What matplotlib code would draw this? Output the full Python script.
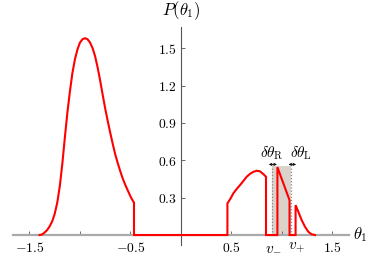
import matplotlib
matplotlib.use("Agg")
import matplotlib.pyplot as plt

plt.rcParams['mathtext.fontset'] = 'cm'
plt.rcParams['font.family'] = ['DejaVu Serif']

# left lobe of P(theta_1)
left_x = [-1.40, -1.375, -1.35, -1.325, -1.30, -1.275, -1.25, -1.225, -1.20, -1.175,
          -1.15, -1.125, -1.10, -1.075, -1.05, -1.025, -1.00, -0.975, -0.95, -0.925,
          -0.90, -0.875, -0.85, -0.825, -0.80, -0.775, -0.75, -0.725, -0.70, -0.675,
          -0.65, -0.625, -0.60, -0.575, -0.55, -0.525, -0.50, -0.48, -0.465, -0.465]
left_y = [0.00, 0.005, 0.02, 0.04, 0.07, 0.11, 0.17, 0.26, 0.39, 0.57,
          0.78, 0.98, 1.15, 1.30, 1.41, 1.49, 1.545, 1.572, 1.58, 1.572,
          1.545, 1.50, 1.435, 1.345, 1.24, 1.125, 1.015, 0.915, 0.82, 0.73,
          0.645, 0.575, 0.51, 0.45, 0.40, 0.355, 0.31, 0.28, 0.26, 0.0]
# middle bump
mid_x = [-0.465, 0.46, 0.46, 0.49, 0.518, 0.55, 0.584, 0.62, 0.65, 0.685, 0.716,
         0.75, 0.78, 0.80, 0.82, 0.842, 0.842]
mid_y = [0.0, 0.0, 0.254, 0.292, 0.334, 0.368, 0.40, 0.436, 0.467, 0.492, 0.507,
         0.516, 0.512, 0.50, 0.486, 0.468, 0.0]
# part inside the window
win_x = [0.842, 0.955, 0.955, 1.075, 1.075]
win_y = [0.0, 0.0, 0.545, 0.28, 0.0]
# right tail
tail_x = [1.075, 1.135, 1.135, 1.162, 1.195, 1.228, 1.26, 1.294, 1.327]
tail_y = [0.0, 0.0, 0.24, 0.187, 0.12, 0.067, 0.027, 0.006, 0.0]

v_minus, v_plus = 0.905, 1.09
shade_top = 0.555

xticks = [-1.5, -1.0, -0.5, 0.5, 1.0, 1.5]
xticklabels = [r'$-1.5$', '', r'$-0.5$', r'$0.5$', '', r'$1.5$']
yticks = [0.3, 0.6, 0.9, 1.2, 1.5]
yticklabels = [r'$0.3$', r'$0.6$', r'$0.9$', r'$1.2$', r'$1.5$']

fig = plt.figure(figsize=(3.74, 2.61), dpi=100)
ax = fig.add_axes([0.0356, 0.0613, 0.8965, 0.8352])
ax.set_xlim(-1.66, 1.66)
ax.set_ylim(-0.08, 1.67)

for s in ['top', 'right']:
    ax.spines[s].set_visible(False)
ax.spines['bottom'].set_position(('data', 0))
ax.spines['left'].set_position(('data', 0))
ax.spines['bottom'].set_color('#aaaaaa')
ax.spines['bottom'].set_linewidth(1.6)
ax.spines['left'].set_color('#555555')
ax.spines['left'].set_linewidth(0.8)

ax.set_xticks(xticks)
ax.set_xticklabels(xticklabels, fontsize=9.8)
ax.set_yticks(yticks)
ax.set_yticklabels(yticklabels, fontsize=9.8)
ax.tick_params(axis='x', direction='in', length=3, width=0.6, color='#555555', pad=4)
ax.tick_params(axis='y', direction='in', length=3, width=0.6, color='#555555', pad=3)

# shaded window
ax.fill_between([v_minus, v_plus], 0, shade_top, color='#d9d3cb', lw=0, zorder=1)
for v in (v_minus, v_plus):
    ax.plot([v, v], [0, shade_top], ls=(0, (1, 1.5)), color='#888888', lw=0.9, zorder=2)

xs = left_x + mid_x[1:] + win_x[1:] + tail_x[1:]
ys = left_y + mid_y[1:] + win_y[1:] + tail_y[1:]
ax.plot(xs, ys, color='#ff0000', lw=1.5, zorder=3, solid_joinstyle='miter',
        clip_on=False)

# width arrows
arr = dict(arrowstyle='<->', lw=0.6, color='black', mutation_scale=4,
           shrinkA=0, shrinkB=0)
ax.annotate('', xy=(0.87, 0.567), xytext=(0.95, 0.567), arrowprops=arr)
ax.annotate('', xy=(1.065, 0.567), xytext=(1.14, 0.567), arrowprops=arr)
ax.text(0.90, 0.655, r'$\delta\theta_{\mathrm{R}}$', fontsize=11, ha='center', va='center')
ax.text(1.185, 0.655, r'$\delta\theta_{\mathrm{L}}$', fontsize=11, ha='center', va='center')

ax.annotate(r'$v_{-}$', xy=(v_minus, 0), xytext=(1, -4), textcoords='offset points',
            fontsize=11, ha='center', va='top')
ax.annotate(r'$v_{+}$', xy=(v_plus, 0), xytext=(4, -4), textcoords='offset points',
            fontsize=11, ha='center', va='top')

ax.text(0, 1.80, r'$P(\theta_1)$', fontsize=12, ha='center', va='center', clip_on=False)
ax.text(1.78, 0, r'$\theta_1$', fontsize=12, ha='center', va='center', clip_on=False)

fig.savefig('out.png', dpi=100)
